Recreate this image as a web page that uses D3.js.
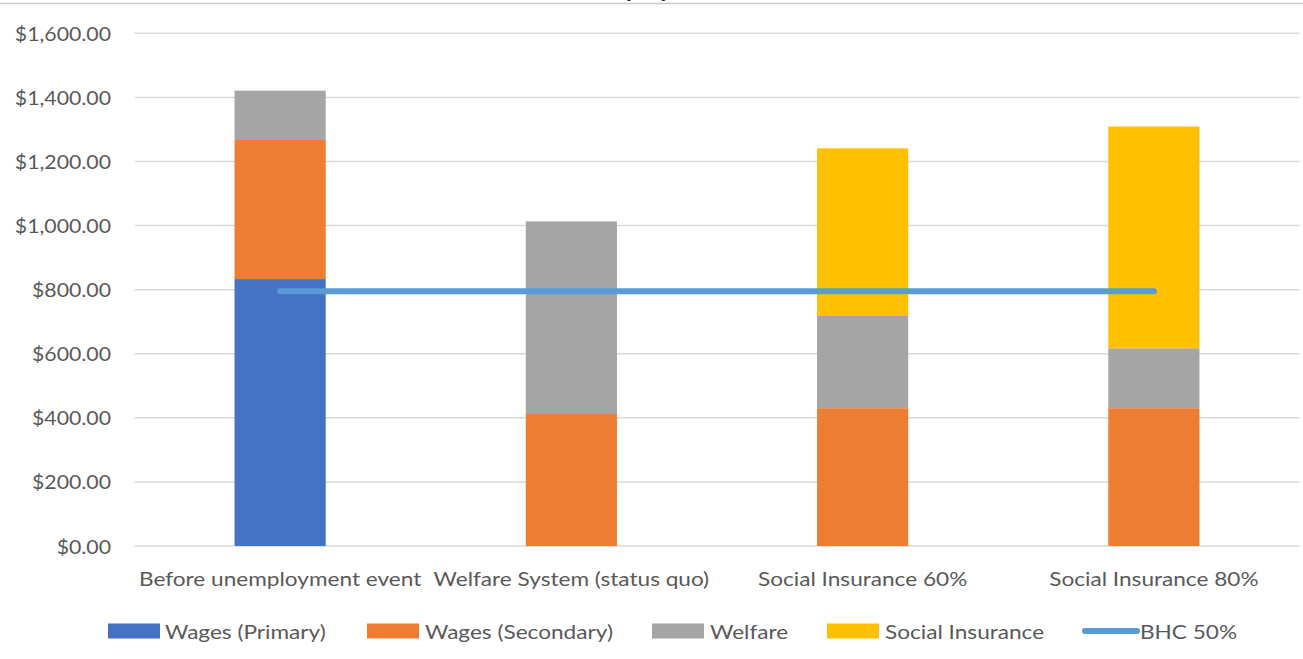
<!DOCTYPE html>
<html>
<head>
<meta charset="utf-8">
<script src="https://cdn.jsdelivr.net/npm/d3@7"></script>
<style>
  html, body { margin: 0; padding: 0; background: #fff; }
  svg { display: block; }
  text { font-family: Lato, "Open Sans", sans-serif; }
</style>
</head>
<body>
<svg id="chart" width="1303" height="659"></svg>
<script>
// Scenario categories along the x axis
const categories = [
  "Before unemployment event",
  "Welfare System (status quo)",
  "Social Insurance 60%",
  "Social Insurance 80%"
];

// Stacked income components (weekly $)
const wagesPrimary   = [833, 0, 0, 0];
const wagesSecondary = [434, 412, 430, 430];
const welfare        = [154, 601, 288, 187];
const socialInsurance = [0, 0, 523, 692];

// Poverty line: 50% of median income before housing costs
const bhc50 = [795, 795, 795, 795];

const seriesNames = ["Wages (Primary)", "Wages (Secondary)", "Welfare", "Social Insurance"];
const seriesColors = ["#4472C4", "#ED7D31", "#A5A5A5", "#FFC000"];
const lineName = "BHC 50%";
const lineColor = "#5B9BD5";

const yTicks = [0, 200, 400, 600, 800, 1000, 1200, 1400, 1600];

const svg = d3.select("#chart");
const W = 1303, H = 659;
const plot = { left: 134.5, right: 1299.5, top: 33.3, bottom: 546 };
const textColor = "#595959";
const fontSize = 19;
const numStretch = 1.12;   // tick numbers
const wordStretch = 1.19;  // category and legend words

// Excel-style text: slightly wide letterforms
function label(g, x, y, str, anchor, sx) {
  return g.append("text")
    .attr("transform", `translate(${x},${y}) scale(${sx},1)`)
    .attr("text-anchor", anchor)
    .attr("dominant-baseline", "central")
    .attr("font-size", fontSize)
    .attr("fill", textColor)
    .text(str);
}

// Frame line along the top of the chart area
svg.append("line")
  .attr("x1", 0).attr("x2", W).attr("y1", 3.5).attr("y2", 3.5)
  .attr("stroke", "#c9c9c9").attr("stroke-width", 1.5);

// Title sits mostly above the visible frame
const titleText = "Household Income After Unemployment";
const title = svg.append("text")
  .attr("x", 0).attr("y", -3)
  .attr("font-size", 24).attr("font-weight", "bold").attr("fill", "#222")
  .text(titleText);
{
  const pIdx = titleText.indexOf("p");
  const off = title.node().getSubStringLength(0, pIdx);
  title.attr("x", 626 - off);
}

const x = d3.scaleBand()
  .domain(categories)
  .range([plot.left, plot.right])
  .paddingInner(0.687)
  .paddingOuter(0.3435);

const y = d3.scaleLinear()
  .domain([0, 1600])
  .range([plot.bottom, plot.top]);

// Horizontal gridlines
const grid = svg.append("g");
grid.selectAll("line")
  .data(yTicks)
  .join("line")
  .attr("x1", plot.left).attr("x2", plot.right)
  .attr("y1", d => y(d)).attr("y2", d => y(d))
  .attr("stroke", "#d9d9d9").attr("stroke-width", 1.5);

// Y axis tick labels
const yAxis = d3.axisLeft(y).tickValues(yTicks)
  .tickFormat(d => "$" + d3.format(",.2f")(d));
const yAxisG = svg.append("g");
yTicks.forEach(v => label(yAxisG, 111, y(v), yAxis.tickFormat()(v), "end", numStretch));

// Stacked bars
const rows = categories.map((c, i) => ({
  category: c,
  [seriesNames[0]]: wagesPrimary[i],
  [seriesNames[1]]: wagesSecondary[i],
  [seriesNames[2]]: welfare[i],
  [seriesNames[3]]: socialInsurance[i]
}));
const stacked = d3.stack().keys(seriesNames)(rows);

svg.append("g")
  .selectAll("g")
  .data(stacked)
  .join("g")
  .attr("fill", (d, i) => seriesColors[i])
  .selectAll("rect")
  .data(d => d.filter(s => s[1] - s[0] > 0))
  .join("rect")
  .attr("x", d => x(d.data.category))
  .attr("width", x.bandwidth())
  .attr("y", d => y(d[1]))
  .attr("height", d => y(d[0]) - y(d[1]));

// Poverty line across the scenarios
const line = d3.line()
  .x((d, i) => x(categories[i]) + x.bandwidth() / 2)
  .y(d => y(d));
svg.append("path")
  .datum(bhc50)
  .attr("d", line)
  .attr("fill", "none")
  .attr("stroke", lineColor)
  .attr("stroke-width", 6)
  .attr("stroke-linecap", "round");

// Category labels
const xAxisG = svg.append("g");
categories.forEach(c => label(xAxisG, x(c) + x.bandwidth() / 2, 578, c, "middle", wordStretch));

// Legend
const legendY = 631;
const legend = svg.append("g");
const legendItems = [
  { name: seriesNames[0], color: seriesColors[0], sx: 108, tx: 165 },
  { name: seriesNames[1], color: seriesColors[1], sx: 367, tx: 425 },
  { name: seriesNames[2], color: seriesColors[2], sx: 652, tx: 710 },
  { name: seriesNames[3], color: seriesColors[3], sx: 827, tx: 885 }
];
legendItems.forEach(it => {
  legend.append("rect")
    .attr("x", it.sx).attr("y", legendY - 7.5)
    .attr("width", 52).attr("height", 15)
    .attr("fill", it.color);
  label(legend, it.tx, legendY, it.name, "start", wordStretch);
});
legend.append("line")
  .attr("x1", 1085).attr("x2", 1137)
  .attr("y1", legendY).attr("y2", legendY)
  .attr("stroke", lineColor).attr("stroke-width", 6)
  .attr("stroke-linecap", "round");
label(legend, 1140, legendY, lineName, "start", wordStretch);
</script>
</body>
</html>
